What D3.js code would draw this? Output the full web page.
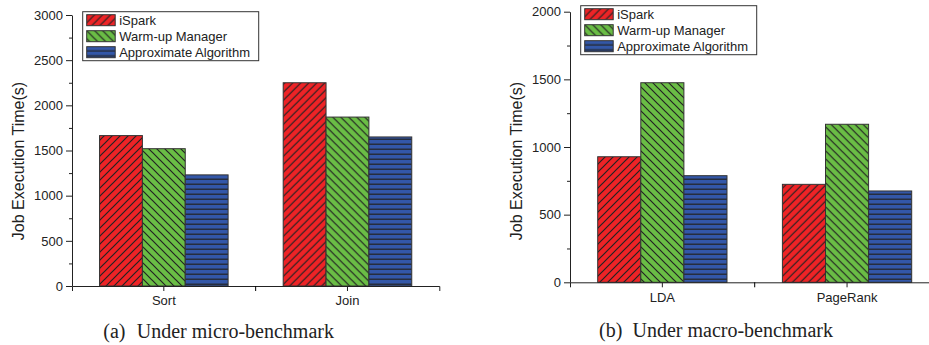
<!DOCTYPE html>
<html>
<head>
<meta charset="utf-8">
<script src="https://cdn.jsdelivr.net/npm/d3@7"></script>
<style>
  html, body { margin: 0; padding: 0; background: #fff; }
  svg { display: block; }
  text { font-family: "Liberation Sans", Arial, sans-serif; fill: #222; }
  .caption { font-family: "Liberation Serif", "Times New Roman", serif; font-size: 20px; }
</style>
</head>
<body>
<div id="chart"></div>
<script>
const seriesNames = ['iSpark', 'Warm-up Manager', 'Approximate Algorithm'];

const microCategories = ['Sort', 'Join'];
const microISpark = [1665, 2250];
const microWarmup = [1520, 1870];
const microApprox = [1230, 1650];
const microTicks = [0, 500, 1000, 1500, 2000, 2500, 3000];

const macroCategories = ['LDA', 'PageRank'];
const macroISpark = [928, 724];
const macroWarmup = [1475, 1168];
const macroApprox = [788, 675];
const macroTicks = [0, 500, 1000, 1500, 2000];

const fills = ['url(#hatch-red)', 'url(#hatch-green)', 'url(#hatch-blue)'];
const ink = '#222';

const svg = d3.select('#chart')
  .append('svg')
  .attr('width', 929)
  .attr('height', 345);

const defs = svg.append('defs');

function hatch(id, bg, w, h, d) {
  const p = defs.append('pattern')
    .attr('id', id)
    .attr('patternUnits', 'userSpaceOnUse')
    .attr('width', w)
    .attr('height', h);
  p.append('rect').attr('width', w).attr('height', h).attr('fill', bg);
  p.append('path').attr('d', d).attr('stroke', ink).attr('stroke-width', 1.2).attr('fill', 'none');
}

hatch('hatch-red', '#ee2326', 8, 8, 'M-2,2L2,-2M0,8L8,0M6,10L10,6');
hatch('hatch-green', '#6abd45', 8, 8, 'M-2,6L2,10M0,0L8,8M6,-2L10,2');
hatch('hatch-blue', '#3357a8', 8, 5, 'M0,4.2H8');

function drawChart(cfg) {
  const g = svg.append('g');

  const y = d3.scaleLinear()
    .domain([0, d3.max(cfg.ticks)])
    .range([cfg.bottom, cfg.top]);

  const x0 = d3.scaleBand()
    .domain(cfg.categories)
    .range([cfg.left, cfg.right]);

  const bw = x0.bandwidth();
  const x1 = d3.scaleBand()
    .domain(seriesNames)
    .range([bw * 0.15, bw * 0.85]);

  const rows = cfg.categories.map((c, i) => ({
    category: c,
    values: cfg.series.map((s, j) => ({name: seriesNames[j], value: s[i], fill: fills[j]}))
  }));

  g.selectAll('g.group')
    .data(rows)
    .join('g')
    .attr('class', 'group')
    .attr('transform', d => `translate(${x0(d.category)},0)`)
    .selectAll('rect')
    .data(d => d.values)
    .join('rect')
    .attr('x', d => x1(d.name))
    .attr('y', d => y(d.value))
    .attr('width', x1.bandwidth())
    .attr('height', d => y(0) - y(d.value))
    .attr('fill', d => d.fill)
    .attr('stroke', '#333')
    .attr('stroke-width', 1);

  // y axis, with half-step minor ticks
  const minor = d3.pairs(cfg.ticks).map(([a, b]) => (a + b) / 2);
  g.append('g')
    .attr('transform', `translate(${cfg.left},0)`)
    .call(d3.axisLeft(y).tickValues(minor).tickSize(3).tickSizeOuter(0).tickFormat(''))
    .call(a => a.select('.domain').remove());

  g.append('g')
    .attr('transform', `translate(${cfg.left},0)`)
    .call(d3.axisLeft(y).tickValues(cfg.ticks).tickFormat(d3.format('d')).tickSize(6).tickSizeOuter(0).tickPadding(3))
    .call(a => a.selectAll('text').style('font-size', '13px').style('font-family', '"Liberation Sans", Arial, sans-serif').attr('fill', '#333'));

  // x axis: labels at band centres, extra ticks at band edges
  const xa = g.append('g')
    .attr('transform', `translate(0,${cfg.bottom})`)
    .call(d3.axisBottom(x0).tickSize(5).tickSizeOuter(5).tickPadding(5))
    .call(a => a.selectAll('text').style('font-size', '13px').style('font-family', '"Liberation Sans", Arial, sans-serif').attr('fill', '#333'));

  xa.selectAll('line.edge')
    .data(cfg.categories.slice(1))
    .join('line')
    .attr('class', 'edge')
    .attr('x1', d => x0(d))
    .attr('x2', d => x0(d))
    .attr('y2', 5)
    .attr('stroke', 'currentColor');

  g.selectAll('.domain, .tick line').attr('stroke', ink);

  g.append('text')
    .attr('transform', `translate(${cfg.labelX},161) rotate(-90)`)
    .attr('text-anchor', 'middle')
    .style('font-size', '16px')
    .text('Job Execution Time(s)');

  // legend
  const lg = g.append('g').attr('transform', `translate(${cfg.left + 10.7},${cfg.legendTop})`);
  lg.append('rect')
    .attr('width', 176)
    .attr('height', 49)
    .attr('fill', '#fff')
    .attr('stroke', '#333');

  const item = lg.selectAll('g.item')
    .data(seriesNames)
    .join('g')
    .attr('class', 'item')
    .attr('transform', (d, i) => `translate(4,${3 + i * 16})`);

  item.append('rect')
    .attr('width', 28.5)
    .attr('height', 11)
    .attr('fill', (d, i) => fills[i])
    .attr('stroke', '#333');

  item.append('text')
    .attr('x', 32.5)
    .attr('y', 10)
    .style('font-size', '13px')
    .text(d => d);

  const cap = g.append('text')
    .attr('class', 'caption')
    .attr('x', cfg.captionX)
    .attr('y', cfg.captionY);
  cap.append('tspan').text(cfg.captionTag);
  cap.append('tspan').attr('x', cfg.captionX + 33.5).text(cfg.caption);
}

drawChart({
  categories: microCategories,
  series: [microISpark, microWarmup, microApprox],
  ticks: microTicks,
  left: 72, right: 439.3, top: 15, bottom: 286,
  labelX: 24, legendTop: 11.7,
  captionX: 103.3, captionY: 338, captionTag: '(a)', caption: 'Under micro-benchmark'
});

drawChart({
  categories: macroCategories,
  series: [macroISpark, macroWarmup, macroApprox],
  ticks: macroTicks,
  left: 570, right: 939.4, top: 11.7, bottom: 282.3,
  labelX: 522, legendTop: 5.7,
  captionX: 599, captionY: 337, captionTag: '(b)', caption: 'Under macro-benchmark'
});
</script>
</body>
</html>
